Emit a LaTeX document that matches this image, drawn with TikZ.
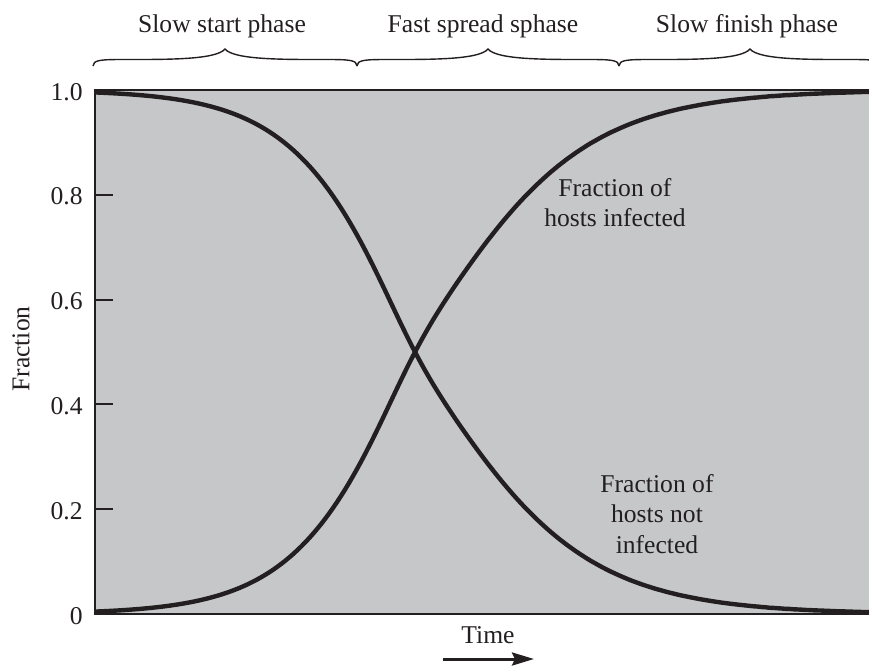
\documentclass[tikz,border=0pt]{standalone}
\usepackage{fontspec}
\setmainfont{Liberation Serif}
\usetikzlibrary{arrows.meta}
\definecolor{ink}{RGB}{35,31,32}
\definecolor{panel}{RGB}{198,199,201}
% curly brace over one phase, from x=#1 to x=#2 (baseline at y=66)
\newcommand{\phasebrace}[2]{%
  \pgfmathsetmacro\bracemid{(#1+#2)/2}%
  \draw[brace line] (#1,66) .. controls (#1,60) and ({#1+8},59.5) .. ({#1+30},59.5)
    .. controls ({\bracemid-60},59.5) and ({\bracemid-9},60) .. (\bracemid,49)
    .. controls ({\bracemid+9},60) and ({\bracemid+60},59.5) .. ({#2-30},59.5)
    .. controls ({#2-8},59.5) and (#2,60) .. (#2,66);}
\begin{document}
\begin{tikzpicture}[x=0.5pt,y=-0.5pt,
  every node/.style={font=\fontsize{12.8}{15.25}\selectfont, text=ink, inner sep=0pt},
  frame/.style={draw=ink, line width=1pt},
  curve/.style={draw=ink, line width=2.2pt},
  brace line/.style={draw=ink, line width=0.7pt},
  ticklabel/.style={anchor=base east},
  note/.style={align=center, anchor=center},
  declare function={
    softsign(\u)=2/(1+exp(-2*min(max(\u,-4),4)))-1;
    logit(\t)=\t*(1.46-0.22*softsign(2.5*\t));
    share(\t)=1/(1+exp(-logit(\t)));},
]
\useasboundingbox (0,0) rectangle (869,666);
\clip (0,0) rectangle (869,666);

% shaded plot panel
\fill[panel] (95,90) rectangle (885,614);

% spread curves; \x is the time offset (in 100 px) from the crossing point
\begin{scope}
  \clip (95,90) rectangle (885,614);
  \draw[curve] plot[domain=-3.2:4.7, samples=200]
    ({415+100*\x}, {614-524*share(\x)});
  \draw[curve] plot[domain=-3.2:4.7, samples=200]
    ({415+100*\x}, {90+524*share(\x)});
\end{scope}

% axes frame and ticks
\draw[frame] (885,90) -- (95,90) -- (95,614) -- (885,614);
\foreach \v in {0.2,0.4,0.6,0.8}
  \draw[frame] (95,{614-524*\v}) -- (113,{614-524*\v});

% tick labels
\node[ticklabel] (y10) at (83,100) {1.0};
\node[ticklabel] (y08) at (83,{614-524*0.8+10}) {0.8};
\node[ticklabel] (y06) at (83,{614-524*0.6+10}) {0.6};
\node[ticklabel] (y04) at (83,{614-524*0.4+10}) {0.4};
\node[ticklabel] (y02) at (83,{614-524*0.2+10}) {0.2};
\node[ticklabel] (y00) at (83,624) {0};

% axis titles
\node[rotate=90] (ylab) at (21,349) {Fraction};
\node[anchor=base] (time) at (488,643) {Time};
\coordinate (t0) at (443,659);
\coordinate (t1) at (534,659);
\draw[draw=ink, line width=1.5pt, -{Stealth[length=11pt,width=6.5pt,inset=1.5pt]}] (t0) -- (t1);

% phase braces
\phasebrace{93}{357}
\phasebrace{357}{619}
\phasebrace{619}{881}
\node[anchor=base] (slow) at (222,32) {Slow start phase};
\node[anchor=base] (fast) at (483,32) {Fast spread sphase};
\node[anchor=base] (finish) at (747,32) {Slow finish phase};

% curve labels
\node[note] (inf) at (615,202.5) {Fraction of\\hosts infected};
\node[note] (notinf) at (657,514) {Fraction of\\hosts not\\infected};
\end{tikzpicture}
\end{document}
